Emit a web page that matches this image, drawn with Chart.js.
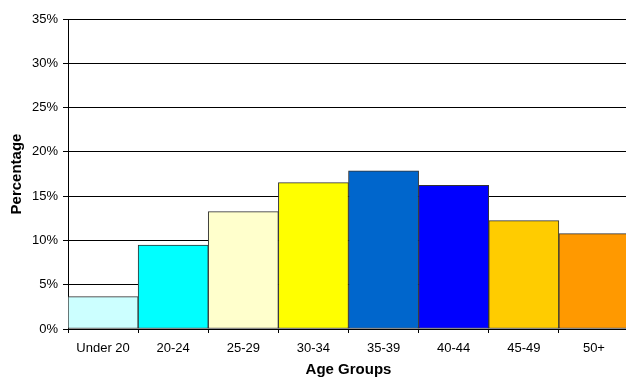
<!DOCTYPE html>
<html>
<head>
<meta charset="utf-8">
<script src="https://cdn.jsdelivr.net/npm/chart.js@4.4.1/dist/chart.umd.min.js"></script>
<style>
html, body { margin: 0; padding: 0; background: #fff; overflow: hidden; }
#wrap { width: 626px; height: 379px; overflow: hidden; }
</style>
</head>
<body>
<div id="wrap"><canvas id="ageChart" width="630" height="379"></canvas></div>
<script>
// chart data
const ageGroups = ['Under 20', '20-24', '25-29', '30-34', '35-39', '40-44', '45-49', '50+'];
const percentages = [3.65, 9.48, 13.25, 16.52, 17.87, 16.22, 12.23, 10.76];
const barColors = ['#CCFFFF', '#00FFFF', '#FFFFCC', '#FFFF00', '#0066CC', '#0000FF', '#FFCC00', '#FF9900'];
const yTicks = [0, 5, 10, 15, 20, 25, 30, 35];

Chart.defaults.font.family = '"Liberation Sans", Arial, sans-serif';
Chart.defaults.color = '#000';

const ctx = document.getElementById('ageChart').getContext('2d');
const ageChart = new Chart(ctx, {
  type: 'bar',
  data: {
    labels: ageGroups,
    datasets: [{
      data: percentages,
      backgroundColor: barColors,
      borderColor: '#333',
      borderWidth: 1,
      borderSkipped: false,
      categoryPercentage: 1,
      barPercentage: 1
    }]
  },
  options: {
    responsive: false,
    animation: false,
    layout: { padding: { top: 19, right: 1, left: 0, bottom: 0 } },
    plugins: {
      legend: { display: false },
      tooltip: { enabled: false }
    },
    scales: {
      x: {
        grid: { offset: true, drawOnChartArea: false, tickLength: 4, color: '#000' },
        border: { color: '#000' },
        ticks: { font: { size: 13 }, padding: 8, maxRotation: 0 },
        title: { display: true, text: 'Age Groups', font: { size: 15, weight: 'bold' }, padding: { top: 0, bottom: 0 } },
        afterFit: function(scale) { scale.height = 50; }
      },
      y: {
        min: 0,
        max: 35,
        afterBuildTicks: function(scale) { scale.ticks = yTicks.map(v => ({ value: v })); },
        grid: { color: '#000', tickLength: 5 },
        border: { color: '#000' },
        ticks: { font: { size: 13 }, padding: 5, callback: v => v + '%' },
        title: { display: true, text: 'Percentage', font: { size: 15, weight: 'bold' }, padding: { top: 8, bottom: 0 } },
        afterFit: function(scale) { scale.width = 68; }
      }
    }
  }
});
</script>
</body>
</html>
